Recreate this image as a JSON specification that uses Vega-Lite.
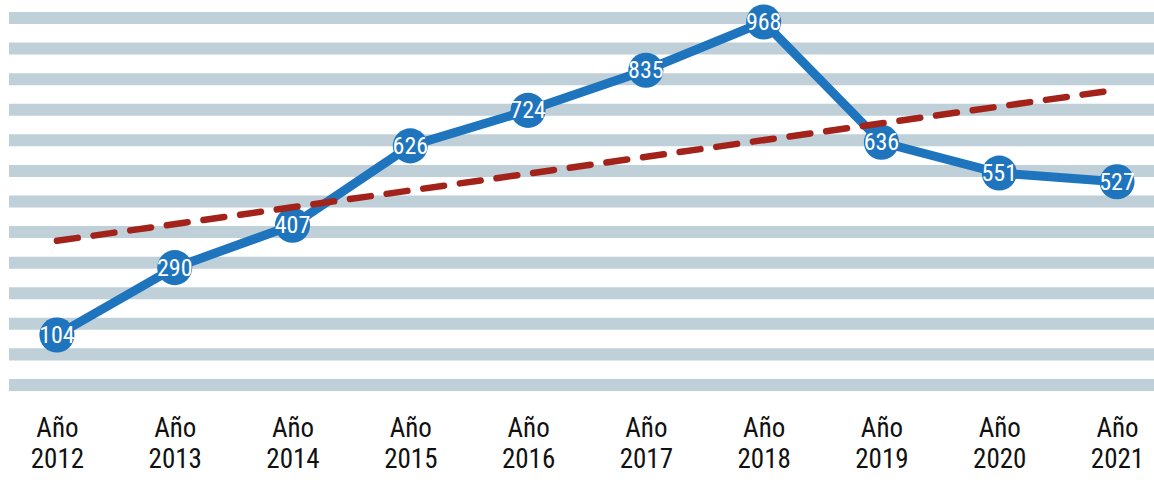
{
  "$schema": "https://vega.github.io/schema/vega-lite/v6.json",
  "width": 1145,
  "height": 400,
  "padding": {"left": 9, "top": 0, "right": 0, "bottom": 0},
  "background": "white",
  "config": {"view": {"stroke": null}},
  "datasets": {
    "pts": [
      {"year": 2012, "value": 104},
      {"year": 2013, "value": 290},
      {"year": 2014, "value": 407},
      {"year": 2015, "value": 626},
      {"year": 2016, "value": 724},
      {"year": 2017, "value": 835},
      {"year": 2018, "value": 968},
      {"year": 2019, "value": 636},
      {"year": 2020, "value": 551},
      {"year": 2021, "value": 527}
    ],
    "stripes": [
      {"top": 995.6, "bottom": 962.4},
      {"top": 911.2, "bottom": 878.0},
      {"top": 826.8, "bottom": 793.6},
      {"top": 742.4, "bottom": 709.2},
      {"top": 658.0, "bottom": 624.8},
      {"top": 573.6, "bottom": 540.4},
      {"top": 489.2, "bottom": 456.0},
      {"top": 404.8, "bottom": 371.6},
      {"top": 320.4, "bottom": 287.2},
      {"top": 236.0, "bottom": 202.8},
      {"top": 151.6, "bottom": 118.4},
      {"top": 67.2, "bottom": 34.0},
      {"top": -17.2, "bottom": -50.4}
    ],
    "trend": [
      {"year": 2012, "value": 364},
      {"year": 2021, "value": 781}
    ]
  },
  "layer": [
    {
      "data": {"name": "stripes"},
      "mark": {"type": "rect", "color": "#BFD0D9"},
      "encoding": {
        "y": {"field": "top", "type": "quantitative", "scale": {"domain": [-75.3, 1028.7], "nice": false, "zero": false}, "axis": null},
        "y2": {"field": "bottom"}
      }
    },
    {
      "data": {"name": "pts"},
      "mark": {"type": "line", "color": "#1F74BE", "strokeWidth": 9, "strokeJoin": "miter"},
      "encoding": {
        "x": {"field": "year", "type": "quantitative", "scale": {"domain": [2011.593, 2021.314], "nice": false, "zero": false},
          "axis": {"values": [2012, 2013, 2014, 2015, 2016, 2017, 2018, 2019, 2020, 2021], "domain": false, "ticks": false, "grid": false, "title": null,
            "labelExpr": "['Año', format(datum.value, 'd')]", "labelFont": "Roboto Condensed", "labelFontWeight": "normal",
            "labelFontSize": 27, "labelLineHeight": 31, "labelColor": "#111111", "labelPadding": 15, "labelBaseline": "top", "labelFlush": false, "labelOverlap": false}},
        "y": {"field": "value", "type": "quantitative"}
      }
    },
    {
      "data": {"name": "pts"},
      "mark": {"type": "circle", "color": "#1F74BE", "opacity": 1, "size": 1230},
      "encoding": {
        "x": {"field": "year", "type": "quantitative"},
        "y": {"field": "value", "type": "quantitative"}
      }
    },
    {
      "data": {"name": "trend"},
      "mark": {"type": "line", "color": "#A3231B", "strokeWidth": 6.5, "strokeDash": [21, 16], "strokeCap": "round"},
      "encoding": {
        "x": {"field": "year", "type": "quantitative"},
        "y": {"field": "value", "type": "quantitative"}
      }
    },
    {
      "data": {"name": "pts"},
      "mark": {"type": "text", "color": "white", "fontSize": 24, "font": "Roboto Condensed", "fontWeight": "normal", "align": "center", "baseline": "middle", "dy": 1},
      "encoding": {
        "x": {"field": "year", "type": "quantitative"},
        "y": {"field": "value", "type": "quantitative"},
        "text": {"field": "value", "type": "quantitative"}
      }
    }
  ]
}
